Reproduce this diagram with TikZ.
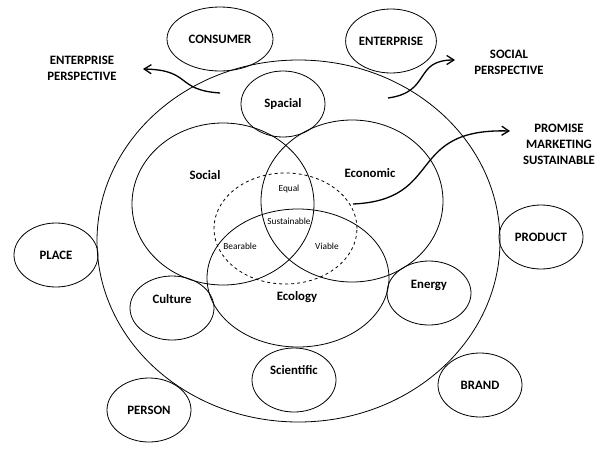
\documentclass[tikz,border=0pt]{standalone}
\usepackage{fontspec}
\setmainfont{Carlito}
\usepackage{tikz}
\usetikzlibrary{shapes.geometric}
\usetikzlibrary{arrows.meta}
\tikzstyle{bubble} = [draw, ellipse, line width=0.8pt,
	inner sep=0pt,
	minimum width=84pt,
	minimum height=64pt,
	font=\bfseries\fontsize{12.8}{15}\selectfont]
\tikzstyle{ring} = [draw, ellipse, line width=0.8pt, inner sep=0pt]
\tikzstyle{word} = [font=\bfseries\fontsize{12.8}{16}\selectfont, align=center]
\tikzstyle{small} = [font=\fontsize{9.3}{11}\selectfont]
\tikzstyle{arrow} = [-{Straight Barb[length=2.5mm, width=3.2mm]}, line width=1.3pt]

\begin{document}
\begin{tikzpicture}[x=1pt, y=-1pt]
	\useasboundingbox (0,0) rectangle (600,464);
	
	% the big rings
	\node[ring, minimum width=403pt, minimum height=362pt] (world) at (298.5,241) {};
	\node[ring, minimum width=182pt, minimum height=162pt] (social) at (223,204) {};
	\node[ring, minimum width=182pt, minimum height=162pt] (economic) at (352,201) {};
	\node[ring, minimum width=182pt, minimum height=138pt] (ecology) at (298,278) {};
	\node[ring, dashed, minimum width=143pt, minimum height=111pt] (core) at (285.5,228.5) {};
	
	\node[word] at (205,175) {Social};
	\node[word] at (370,173) {Economic};
	\node[word] at (297,297) {Ecology};
	
	\node[small] at (289,189) {Equal};
	\node[small] at (289,221) {Sustainable};
	\node[small] at (240,246) {Bearable};
	\node[small] at (327,246) {Viable};
	
	% bubbles
	\node[bubble, minimum width=106pt] (consumer) at (220,39) {CONSUMER};
	\node[bubble] (enterprise) at (391,41) {ENTERPRISE};
	\node[bubble, minimum height=66pt] (spacial) at (283,104) {Spacial};
	\node[bubble, label={[yshift=9pt, font=\bfseries\fontsize{12.8}{15}\selectfont]center:Culture}] (culture) at (172,308) {};
	\node[bubble, label={[yshift=8pt, font=\bfseries\fontsize{12.8}{15}\selectfont]center:Energy}] (energy) at (429,293) {};
	\node[bubble, label={[yshift=10pt, font=\bfseries\fontsize{12.8}{15}\selectfont]center:Scientific}] (scientific) at (294,380) {};
	\node[bubble] (place) at (56,255) {PLACE};
	\node[bubble] (person) at (149,410) {PERSON};
	\node[bubble] (product) at (541,237) {PRODUCT};
	\node[bubble] (brand) at (480,385) {BRAND};
	
	% perspectives
	\node[word] (entpersp) at (82,68) {ENTERPRISE\\PERSPECTIVE};
	\node[word] (socpersp) at (509,62) {SOCIAL\\PERSPECTIVE};
	\node[word] (promise) at (559,144) {PROMISE\\MARKETING\\SUSTAINABLE};
	
	\coordinate (a1) at (220,93);
	\coordinate (a2) at (143,69);
	\coordinate (b1) at (388,98);
	\coordinate (b2) at (455,60);
	\coordinate (c1) at (353,204);
	\coordinate (c2) at (510,131);
	
	\draw [arrow] (a1) .. controls (175,90) and (192,70) .. (a2);
	\draw [arrow] (b1) .. controls (432,92) and (413,60) .. (b2);
	\draw [arrow] (c1) .. controls (445,200) and (405,128) .. (c2);
\end{tikzpicture}
\end{document}
